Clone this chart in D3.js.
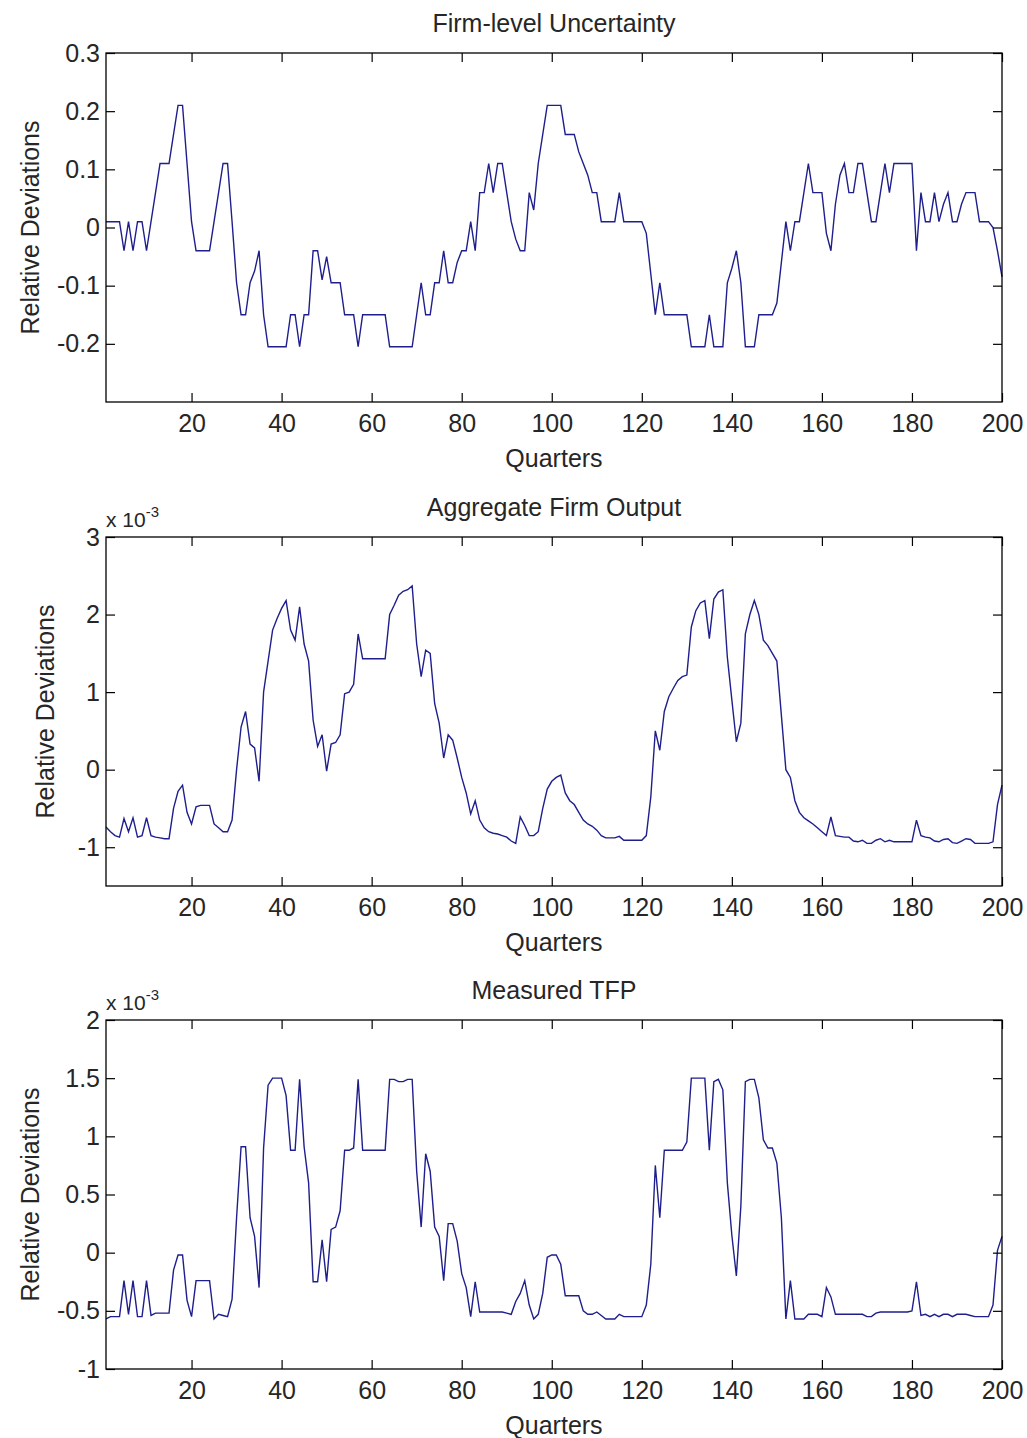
<!DOCTYPE html>
<html><head><meta charset="utf-8">
<script src="https://cdn.jsdelivr.net/npm/d3@7"></script>
<style>
body{margin:0;background:#fff}
svg text{font-family:"Liberation Sans",Arial,Helvetica,sans-serif;fill:#262626}
</style>
</head><body>
<svg id="chart" width="1027" height="1438"></svg>
<script>
// ---------------- data ----------------
const quarters = d3.range(1, 201);
const xTickValues = [20, 40, 60, 80, 100, 120, 140, 160, 180, 200];

const uncertainty = [
 0.01,0.01,0.01,0.01,-0.04,0.01,-0.04,0.01,0.01,-0.04,
 0.01,0.06,0.11,0.11,0.11,0.16,0.21,0.21,0.11,0.01,
 -0.04,-0.04,-0.04,-0.04,0.01,0.06,0.11,0.11,0.01,-0.095,
 -0.15,-0.15,-0.095,-0.075,-0.04,-0.15,-0.205,-0.205,-0.205,-0.205,
 -0.205,-0.15,-0.15,-0.205,-0.15,-0.15,-0.04,-0.04,-0.09,-0.05,
 -0.095,-0.095,-0.095,-0.15,-0.15,-0.15,-0.205,-0.15,-0.15,-0.15,
 -0.15,-0.15,-0.15,-0.205,-0.205,-0.205,-0.205,-0.205,-0.205,-0.15,
 -0.095,-0.15,-0.15,-0.095,-0.095,-0.04,-0.095,-0.095,-0.06,-0.04,
 -0.04,0.01,-0.04,0.06,0.06,0.11,0.06,0.11,0.11,0.06,
 0.01,-0.02,-0.04,-0.04,0.06,0.03,0.11,0.16,0.21,0.21,
 0.21,0.21,0.16,0.16,0.16,0.13,0.11,0.09,0.06,0.06,
 0.01,0.01,0.01,0.01,0.06,0.01,0.01,0.01,0.01,0.01,
 -0.01,-0.08,-0.15,-0.095,-0.15,-0.15,-0.15,-0.15,-0.15,-0.15,
 -0.205,-0.205,-0.205,-0.205,-0.15,-0.205,-0.205,-0.205,-0.095,-0.07,
 -0.04,-0.095,-0.205,-0.205,-0.205,-0.15,-0.15,-0.15,-0.15,-0.13,
 -0.06,0.01,-0.04,0.01,0.01,0.06,0.11,0.06,0.06,0.06,
 -0.01,-0.04,0.04,0.09,0.11,0.06,0.06,0.11,0.11,0.06,
 0.01,0.01,0.06,0.11,0.06,0.11,0.11,0.11,0.11,0.11,
 -0.04,0.06,0.01,0.01,0.06,0.01,0.04,0.06,0.01,0.01,
 0.04,0.06,0.06,0.06,0.01,0.01,0.01,0.0,-0.04,-0.085
];

// in units of 1e-3
const output = [
 -0.74,-0.80,-0.85,-0.87,-0.63,-0.80,-0.62,-0.87,-0.85,-0.62,
 -0.85,-0.87,-0.88,-0.89,-0.89,-0.50,-0.28,-0.20,-0.55,-0.70,
 -0.48,-0.46,-0.46,-0.46,-0.70,-0.75,-0.80,-0.80,-0.65,0.00,
 0.55,0.75,0.33,0.28,-0.15,1.00,1.40,1.80,1.95,2.08,
 2.18,1.80,1.67,2.10,1.62,1.40,0.64,0.30,0.45,-0.02,
 0.33,0.35,0.45,0.98,1.00,1.10,1.75,1.43,1.43,1.43,
 1.43,1.43,1.43,2.00,2.12,2.25,2.30,2.32,2.37,1.62,
 1.20,1.54,1.50,0.85,0.60,0.15,0.45,0.38,0.15,-0.10,
 -0.30,-0.57,-0.40,-0.65,-0.75,-0.80,-0.82,-0.83,-0.85,-0.87,
 -0.92,-0.95,-0.61,-0.72,-0.85,-0.85,-0.80,-0.50,-0.25,-0.15,
 -0.10,-0.07,-0.30,-0.40,-0.45,-0.55,-0.65,-0.70,-0.73,-0.78,
 -0.85,-0.88,-0.88,-0.88,-0.86,-0.91,-0.91,-0.91,-0.91,-0.91,
 -0.85,-0.35,0.50,0.25,0.75,0.94,1.05,1.15,1.20,1.22,
 1.84,2.05,2.15,2.18,1.69,2.20,2.29,2.32,1.45,0.90,
 0.36,0.60,1.75,2.00,2.18,2.00,1.67,1.60,1.50,1.40,
 0.70,0.00,-0.10,-0.40,-0.55,-0.62,-0.66,-0.70,-0.75,-0.80,
 -0.85,-0.61,-0.85,-0.86,-0.87,-0.87,-0.92,-0.93,-0.91,-0.95,
 -0.95,-0.91,-0.89,-0.93,-0.91,-0.93,-0.93,-0.93,-0.93,-0.93,
 -0.65,-0.85,-0.87,-0.88,-0.92,-0.93,-0.90,-0.89,-0.94,-0.95,
 -0.92,-0.89,-0.90,-0.95,-0.95,-0.95,-0.95,-0.93,-0.45,-0.20
];

// in units of 1e-3
const tfp = [
 -0.57,-0.55,-0.55,-0.55,-0.24,-0.53,-0.24,-0.55,-0.55,-0.24,
 -0.54,-0.52,-0.52,-0.52,-0.52,-0.15,-0.02,-0.02,-0.41,-0.55,
 -0.24,-0.24,-0.24,-0.24,-0.57,-0.53,-0.54,-0.55,-0.40,0.30,
 0.91,0.91,0.30,0.14,-0.30,0.90,1.44,1.50,1.50,1.50,
 1.35,0.88,0.88,1.49,0.91,0.60,-0.25,-0.25,0.11,-0.25,
 0.20,0.22,0.36,0.88,0.88,0.90,1.49,0.88,0.88,0.88,
 0.88,0.88,0.88,1.49,1.49,1.47,1.47,1.49,1.49,0.70,
 0.22,0.85,0.70,0.22,0.14,-0.24,0.25,0.25,0.10,-0.18,
 -0.30,-0.55,-0.25,-0.51,-0.51,-0.51,-0.51,-0.51,-0.51,-0.52,
 -0.53,-0.42,-0.35,-0.24,-0.45,-0.57,-0.53,-0.35,-0.04,-0.02,
 -0.02,-0.10,-0.37,-0.37,-0.37,-0.37,-0.50,-0.53,-0.53,-0.51,
 -0.54,-0.57,-0.57,-0.57,-0.53,-0.55,-0.55,-0.55,-0.55,-0.55,
 -0.45,-0.10,0.75,0.30,0.88,0.88,0.88,0.88,0.88,0.95,
 1.50,1.50,1.50,1.50,0.88,1.47,1.49,1.40,0.60,0.15,
 -0.20,0.40,1.47,1.49,1.49,1.33,0.97,0.90,0.90,0.77,
 0.30,-0.57,-0.24,-0.57,-0.57,-0.57,-0.53,-0.53,-0.53,-0.55,
 -0.30,-0.38,-0.53,-0.53,-0.53,-0.53,-0.53,-0.53,-0.53,-0.55,
 -0.55,-0.52,-0.51,-0.51,-0.51,-0.51,-0.51,-0.51,-0.51,-0.50,
 -0.25,-0.54,-0.53,-0.55,-0.53,-0.55,-0.53,-0.53,-0.55,-0.53,
 -0.53,-0.53,-0.54,-0.55,-0.55,-0.55,-0.55,-0.45,0.02,0.14
];

const titles = ["Firm-level Uncertainty", "Aggregate Firm Output", "Measured TFP"];
const yDomains = [[-0.3, 0.3], [-1.5, 3], [-1, 2]];
const yTickValues = [
  [-0.2, -0.1, 0, 0.1, 0.2, 0.3],
  [-1, 0, 1, 2, 3],
  [-1, -0.5, 0, 0.5, 1, 1.5, 2]
];
const exponentLabels = [null, "-3", "-3"];
const seriesList = [uncertainty, output, tfp];
const xLabel = "Quarters";
const yLabel = "Relative Deviations";

// ---------------- layout ----------------
const svg = d3.select("#chart");
const left = 106, right = 1002;
const tops = [53, 537, 1020];
const plotH = 349;
const yLabelX = [30, 45, 30];
const tickLen = 9;
const lineColor = "#1e1e8c";
const fontSize = 25;

const x = d3.scaleLinear().domain([1, 200]).range([left, right]);

seriesList.forEach((series, p) => {
  const top = tops[p], bottom = top + plotH;
  const y = d3.scaleLinear().domain(yDomains[p]).range([bottom, top]);
  const g = svg.append("g");

  g.append("rect").attr("x", left).attr("y", top)
    .attr("width", right - left).attr("height", plotH)
    .attr("fill", "#fff");

  // data line
  const line = d3.line().x((d, i) => x(quarters[i])).y(d => y(d));
  g.append("path").datum(series)
    .attr("d", line).attr("fill", "none")
    .attr("stroke", lineColor).attr("stroke-width", 1.4)
    .attr("stroke-linejoin", "miter");

  // axes (inward ticks on all sides)
  const fmt = v => (v === 0 ? "0" : String(v));
  const bottomAxis = d3.axisBottom(x).tickValues(xTickValues).tickSize(-tickLen).tickPadding(12).tickFormat(d3.format("d"));
  const topAxis = d3.axisTop(x).tickValues(xTickValues).tickSize(-tickLen).tickFormat("");
  const leftAxis = d3.axisLeft(y).tickValues(yTickValues[p]).tickSize(-tickLen).tickPadding(6).tickFormat(fmt);
  const rightAxis = d3.axisRight(y).tickValues(yTickValues[p]).tickSize(-tickLen).tickFormat("");

  const styleAxis = sel => {
    sel.selectAll("path").remove();
    sel.selectAll("line").attr("stroke", "#000").attr("stroke-width", 1.2);
    sel.selectAll("text").attr("font-size", fontSize).attr("fill", "#262626")
      .style("font-family", '"Liberation Sans",Arial,sans-serif');
  };
  g.append("g").attr("transform", `translate(0,${bottom})`).call(bottomAxis).call(styleAxis);
  g.append("g").attr("transform", `translate(0,${top})`).call(topAxis).call(styleAxis);
  g.append("g").attr("transform", `translate(${left},0)`).call(leftAxis).call(styleAxis);
  g.append("g").attr("transform", `translate(${right},0)`).call(rightAxis).call(styleAxis);

  g.append("rect").attr("x", left).attr("y", top)
    .attr("width", right - left).attr("height", plotH)
    .attr("fill", "none").attr("stroke", "#000").attr("stroke-width", 1.3);

  // title
  g.append("text").attr("x", (left + right) / 2).attr("y", top - 21)
    .attr("text-anchor", "middle").attr("font-size", fontSize).text(titles[p]);

  // x label
  g.append("text").attr("x", (left + right) / 2).attr("y", bottom + 65)
    .attr("text-anchor", "middle").attr("font-size", fontSize).text(xLabel);

  // y label
  g.append("text")
    .attr("transform", `translate(${yLabelX[p]},${(top + bottom) / 2}) rotate(-90)`)
    .attr("text-anchor", "middle").attr("dy", "0.35em")
    .attr("font-size", fontSize).text(yLabel);

  // exponent
  if (exponentLabels[p]) {
    const t = g.append("text").attr("x", left).attr("y", top - 10).attr("font-size", 21);
    t.append("tspan").text("x 10");
    t.append("tspan").attr("dy", -10).attr("font-size", 15).text(exponentLabels[p]);
  }
});
</script>
</body></html>
